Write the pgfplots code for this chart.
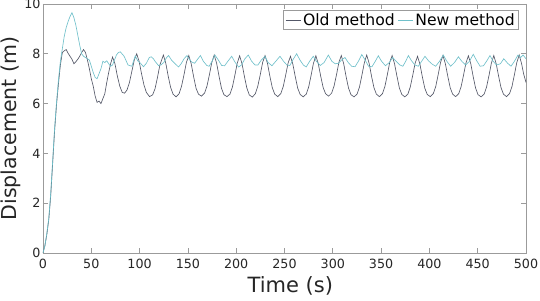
\documentclass[border=0pt]{standalone}
\usepackage{fontspec}
\setmainfont{DejaVu Sans}
\usepackage{pgfplots}
\pgfplotsset{compat=1.18}
\definecolor{oldc}{RGB}{84,88,104}
\definecolor{newc}{RGB}{112,192,202}
\definecolor{axc}{RGB}{155,155,155}
\definecolor{txc}{RGB}{38,38,38}
\begin{document}
\begin{tikzpicture}
\begin{axis}[
  scale only axis, width=483pt, height=249pt,
  xmin=0, xmax=500, ymin=0, ymax=10,
  xtick={0,50,...,500}, ytick={0,2,...,10},
  /pgf/number format/assume math mode=true,
  tick align=inside, major tick length=5pt,
  axis line style={axc, line width=0.8pt},
  every tick/.style={axc, line width=0.8pt},
  ticklabel style={font=\fontsize{12.7}{14}\selectfont, text=txc},
  xticklabel style={yshift=-3pt},
  yticklabel style={xshift=1pt},
  xlabel={Time (s)}, ylabel={Displacement (m)},
  every axis x label/.style={at={(axis description cs:0.512,-0.1325)}, anchor=center, font=\fontsize{21}{24}\selectfont, text=txc},
  every axis y label/.style={at={(axis description cs:-0.066,0.5)}, rotate=90, anchor=center, font=\fontsize{20.5}{24}\selectfont, text=txc},
  legend columns=2,
  legend style={at={(axis description cs:0.9855,0.976)}, anchor=north east, draw=axc, line width=0.6pt, fill=white, font=\fontsize{15.6}{17}\selectfont, text=black, inner xsep=2pt, inner ysep=1pt, /tikz/every even column/.append style={column sep=1pt}},
  legend cell align=left,
  legend image code/.code={\draw[#1, line width=0.7pt] (0pt,0pt) -- (15pt,0pt);},
]
\addplot[oldc, line width=0.65pt] coordinates {
(0,0) (2,0.3) (4,0.75) (6,1.35) (8,2.3) (10,3.6) (12,4.9) (14,5.95) (16,6.8) (18,7.55) (20,8.05) (22,8.12) (24,8.17) (26,8.02) (28,7.9) (30,7.78) (32,7.6) (34,7.68) (36,7.78) (38,7.9) (40,8.05) (42,8.17) (44,8.05) (46,7.75) (48,7.4) (50,7.0) (52,6.7) (54,6.3) (56,6.05) (58,6.1) (60,6.0) (62,6.2) (64,6.4) (66,6.85) (68,7.25) (70,7.6) (72,7.87)
(74.5,7.6) (77,7.1) (79.5,6.7) (82,6.45) (84.5,6.42) (87,6.55) (89.5,6.85) (92,7.3) (94.5,7.75) (97,8.0)
(99.5,7.7) (102,7.2) (104.5,6.75) (107,6.45) (110.3,6.28) (113.5,6.35) (116,6.6) (118.5,7.05) (121,7.55) (124.62,7.95)
(127.12,7.62) (129.62,7.1) (132.12,6.65) (134.62,6.38) (137.77,6.27) (140.92,6.4) (143.42,6.7) (145.92,7.15) (148.42,7.65) (150.93,7.93)
(153.43,7.6) (155.93,7.08) (158.43,6.62) (160.93,6.38) (164.08,6.3) (167.23,6.42) (169.73,6.7) (172.23,7.15) (174.73,7.65) (177.24,7.95)
(179.74,7.62) (182.24,7.1) (184.74,6.62) (187.24,6.36) (190.39,6.28) (193.54,6.38) (196.04,6.66) (198.54,7.12) (201.04,7.62) (203.55,7.92)
(206.05,7.6) (208.55,7.08) (211.05,6.62) (213.55,6.35) (216.7,6.26) (219.85,6.4) (222.35,6.7) (224.85,7.15) (227.35,7.65) (229.86,7.93)
(232.36,7.62) (234.86,7.1) (237.36,6.64) (239.86,6.38) (243.01,6.28) (246.16,6.4) (248.66,6.68) (251.16,7.13) (253.66,7.62) (256.17,7.9)
(258.67,7.58) (261.17,7.08) (263.67,6.62) (266.17,6.37) (269.32,6.27) (272.47,6.38) (274.97,6.66) (277.47,7.12) (279.97,7.62) (282.48,7.92)
(284.98,7.6) (287.48,7.1) (289.98,6.65) (292.48,6.4) (295.63,6.3) (298.78,6.42) (301.28,6.7) (303.78,7.15) (306.28,7.65) (308.79,7.93)
(311.29,7.6) (313.79,7.08) (316.29,6.62) (318.79,6.36) (321.94,6.27) (325.09,6.38) (327.59,6.66) (330.09,7.13) (332.59,7.63) (335.1,7.95)
(337.6,7.62) (340.1,7.1) (342.6,6.64) (345.1,6.38) (348.25,6.28) (351.4,6.4) (353.9,6.68) (356.4,7.15) (358.9,7.65) (361.41,7.93)
(363.91,7.6) (366.41,7.1) (368.91,6.63) (371.41,6.37) (374.56,6.27) (377.71,6.38) (380.21,6.67) (382.71,7.13) (385.21,7.62) (387.72,7.9)
(390.22,7.58) (392.72,7.07) (395.22,6.62) (397.72,6.37) (400.87,6.28) (404.02,6.4) (406.52,6.68) (409.02,7.15) (411.52,7.65) (414.03,7.93)
(416.53,7.6) (419.03,7.1) (421.53,6.64) (424.03,6.38) (427.18,6.28) (430.33,6.4) (432.83,6.68) (435.33,7.14) (437.83,7.63) (440.34,7.92)
(442.84,7.6) (445.34,7.08) (447.84,6.62) (450.34,6.36) (453.49,6.27) (456.64,6.38) (459.14,6.66) (461.64,7.12) (464.14,7.62) (466.65,7.93)
(469.15,7.6) (471.65,7.1) (474.15,6.64) (476.65,6.38) (479.8,6.28) (482.95,6.4) (485.45,6.68) (487.95,7.15) (490.45,7.65) (492.96,7.95)
(495.46,7.6) (497.5,7.2) (500,6.85)
};
\addlegendentry{Old method}
\addplot[newc, line width=0.65pt] coordinates {
(0,0) (2,0.3) (4,0.8) (6,1.4) (8,2.4) (10,3.7) (12,5.0) (14,6.05) (16,6.95) (18,7.7) (20,8.2) (22,8.7) (24,9.05) (26,9.3) (28,9.5) (30,9.65) (32,9.45) (34,9.15) (36,8.75) (38,8.35) (40,8.0) (42,7.9) (44,7.85) (46,7.8) (48,7.75) (50,7.5) (52,7.25) (54,7.05) (56,7.0) (58,7.2) (60,7.4) (62,7.7) (64,7.65) (66,7.72) (68,7.6) (70,7.5) (72,7.55) (74,7.75) (76,7.95) (78,8.05) (80,8.08)
(84,7.9) (88,7.55) (92,7.5) (95.5,7.92)
(98,7.72) (101,7.62) (104,7.48) (107,7.62) (110,7.85) (112,7.88) (114.3,7.8)
(116,7.7) (119.5,7.53) (122,7.55) (125,7.65) (128,7.85) (130,7.93)
(133,7.75) (136.8,7.6) (140.3,7.47) (143,7.6) (146,7.8) (149,7.93)
(152,7.75) (154,7.67) (157,7.62) (160,7.78) (163,7.93)
(166,7.7) (169.6,7.53) (172,7.5) (175,7.7) (178,7.95)
(181.5,7.75) (185,7.53) (188,7.52) (191,7.68) (195.3,7.9)
(199,7.65) (202.5,7.47) (205.5,7.55) (209,7.8) (212.5,7.95)
(216,7.7) (219.5,7.55) (222.5,7.55) (226,7.75) (229.8,7.9)
(233,7.65) (237,7.52) (241,7.7) (245.3,7.9)
(249,7.7) (252.5,7.55) (255.5,7.53) (259,7.78) (262.6,8.0)
(266,7.75) (269.5,7.55) (272.5,7.47) (276,7.7) (279.8,7.9)
(283,7.7) (287,7.53) (291,7.65) (295.4,7.95)
(299,7.7) (302.5,7.6) (306,7.62) (309,7.75) (312.6,7.85)
(316,7.65) (319.5,7.5) (323,7.48) (326.5,7.7) (330,7.97)
(333.5,7.75) (337,7.5) (340.5,7.48) (344,7.7) (347.1,7.92)
(350.5,7.7) (354.5,7.52) (358.5,7.65) (362,7.85)
(365.5,7.7) (369.5,7.55) (372.5,7.5) (375.5,7.7) (378.2,7.93)
(381.5,7.72) (385,7.55) (388.5,7.5) (392,7.7) (395.4,7.9)
(399,7.72) (403,7.58) (406.5,7.5) (410.5,7.7) (414.4,7.95)
(418,7.7) (422,7.5) (426,7.65) (430,7.88)
(433.5,7.7) (437.5,7.55) (441.5,7.7) (445.4,7.98)
(449,7.72) (452.5,7.5) (456,7.52) (459.5,7.72) (462.7,7.93)
(466,7.7) (469.5,7.55) (473.5,7.6) (477,7.8)
(481,7.62) (484.5,7.5) (488,7.7) (491.7,7.95)
(494.5,7.85) (497,7.95) (500,7.8)
};
\addlegendentry{New method}
\end{axis}
\pgfresetboundingbox
\path ([shift={(-43pt,-48pt)}]current axis.south west) rectangle ([shift={(14pt,4pt)}]current axis.north east);
\end{tikzpicture}
\end{document}
